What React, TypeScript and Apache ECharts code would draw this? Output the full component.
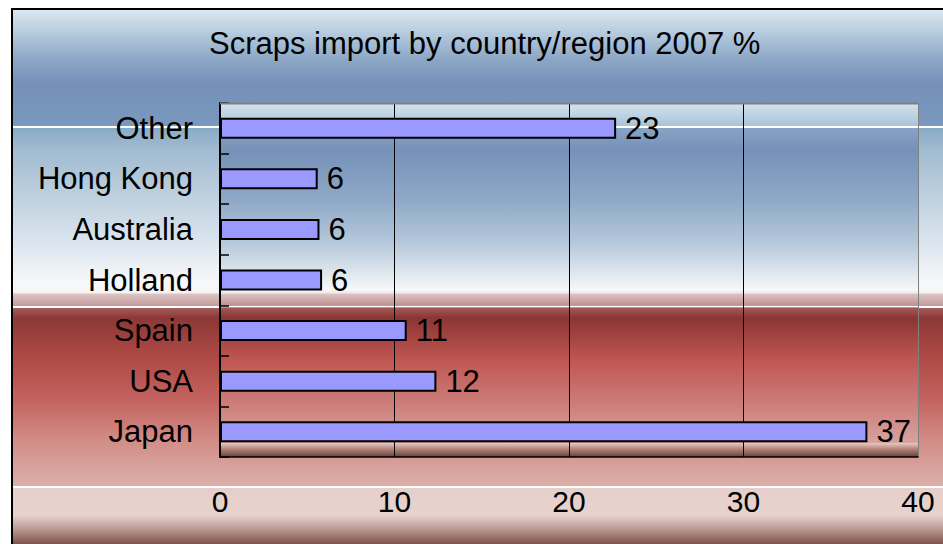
import React, { useEffect, useRef } from "react";
import * as echarts from "echarts";

const categories = ["Japan", "USA", "Spain", "Holland", "Australia", "Hong Kong", "Other"];
const shares = [37.1, 12.4, 10.7, 5.85, 5.7, 5.6, 22.7];
const xTicks = { min: 0, max: 40, interval: 10 };
const titleText = "Scraps import by country/region 2007 %";

const FONT = "'Liberation Sans', Arial, Helvetica, sans-serif";

const outerGradient =
  "linear-gradient(to bottom," +
  "#dae7f1 0px,#bacfe0 20px,#8ba6c5 50px,#7590b8 75px,#7a99bd 116px," +
  "#ffffff 116.5px,#ffffff 117.5px," +
  "#8aabc6 118px,#a1bbd1 140px,#c0d2e0 190px,#dde6ef 235px,#f8f9fb 275px,#f5f2f3 283px," +
  "#dcc4c4 284px,#c49a9a 296px," +
  "#ffffff 296.5px,#ffffff 297.5px," +
  "#a45e5b 298px,#8d3835 308px,#b04b47 350px,#c3635f 390px,#d28c87 430px,#dcb0aa 476px," +
  "#ffffff 476.5px,#ffffff 477.5px," +
  "#e6cfca 478px,#e6d3ce 505px,#b8958f 520px,#7c534e 534px)";

export default function App() {
  const ref = useRef<HTMLDivElement>(null);

  useEffect(() => {
    if (!ref.current) return;
    const chart = echarts.init(ref.current, undefined, { renderer: "svg" });
    const G = echarts.graphic;
    const plotFill = new G.LinearGradient(0, 0, 0, 1, [
      { offset: 0, color: "#d6e4ee" },
      { offset: 0.065, color: "#a9c3d7" },
      { offset: 0.066, color: "#ffffff" },
      { offset: 0.07, color: "#ffffff" },
      { offset: 0.071, color: "#87a3c4" },
      { offset: 0.133, color: "#7691b9" },
      { offset: 0.274, color: "#8ea9c7" },
      { offset: 0.401, color: "#b8cadb" },
      { offset: 0.528, color: "#f6f8fa" },
      { offset: 0.537, color: "#f0e8e8" },
      { offset: 0.54, color: "#dcc2c2" },
      { offset: 0.572, color: "#c09090" },
      { offset: 0.573, color: "#ffffff" },
      { offset: 0.577, color: "#ffffff" },
      { offset: 0.578, color: "#a35a58" },
      { offset: 0.607, color: "#8b3532" },
      { offset: 0.726, color: "#c05652" },
      { offset: 0.839, color: "#cb7a76" },
      { offset: 0.952, color: "#d7a09b" },
      { offset: 1, color: "#dcaca6" },
    ]);
    const floorFill = new G.LinearGradient(0, 0, 0, 1, [
      { offset: 0, color: "#e8cac2" },
      { offset: 0.5, color: "#a87a72" },
      { offset: 1, color: "#6a3e36" },
    ]);

    chart.setOption({
      animation: false,
      backgroundColor: "transparent",
      title: {
        text: titleText,
        left: 209,
        top: 28,
        padding: 0,
        textStyle: { fontSize: 31, fontWeight: "normal", color: "#000", fontFamily: FONT },
      },
      grid: { left: 220, top: 103, width: 698, height: 354, containLabel: false },
      graphic: [
        {
          type: "rect",
          silent: true,
          z: -10,
          shape: { x: 220, y: 103, width: 698, height: 354 },
          style: { fill: plotFill },
        },
        {
          type: "rect",
          silent: true,
          z: -9,
          shape: { x: 220, y: 443, width: 698, height: 14 },
          style: { fill: floorFill },
        },
        {
          type: "line",
          silent: true,
          z: 10,
          shape: { x1: 220, y1: 103.5, x2: 918, y2: 103.5 },
          style: { stroke: "#808080", lineWidth: 2 },
        },
      ],
      xAxis: {
        type: "value",
        min: xTicks.min,
        max: xTicks.max,
        interval: xTicks.interval,
        axisLine: { show: true, lineStyle: { color: "#000", width: 1.5 } },
        axisTick: { show: false },
        splitLine: {
          show: true,
          lineStyle: { color: ["#000", "#000", "#000", "#000", "#808080"], width: 1 },
        },
        axisLabel: { fontSize: 30, color: "#000", fontFamily: FONT, margin: 29 },
      },
      yAxis: {
        type: "category",
        data: categories,
        axisLine: { show: true, lineStyle: { color: "#000", width: 2 } },
        axisTick: { show: true, inside: true, length: 9, lineStyle: { color: "#000", width: 1.5 } },
        axisLabel: { fontSize: 31, color: "#000", fontFamily: FONT, margin: 27 },
        splitLine: { show: false },
      },
      series: [
        {
          type: "bar",
          data: shares,
          barWidth: 21,
          itemStyle: { color: "#9999ff", borderColor: "#000", borderWidth: 2 },
          label: {
            show: true,
            position: "right",
            distance: 9,
            fontSize: 31,
            color: "#000",
            fontFamily: FONT,
            formatter: (p: any) => String(Math.round(p.value)),
          },
        },
      ],
    });
    return () => chart.dispose();
  }, []);

  return (
    <div
      style={{
        position: "fixed",
        left: 0,
        top: 0,
        width: 943,
        height: 544,
        background: "#fff",
        overflow: "hidden",
      }}
    >
      <div
        style={{
          position: "absolute",
          left: 11,
          top: 8,
          width: 932,
          height: 536,
          boxSizing: "border-box",
          borderLeft: "2px solid #000",
          borderTop: "2px solid #000",
          background: outerGradient,
        }}
      />
      <div ref={ref} style={{ position: "absolute", left: 0, top: 0, width: 943, height: 544 }} />
    </div>
  );
}
